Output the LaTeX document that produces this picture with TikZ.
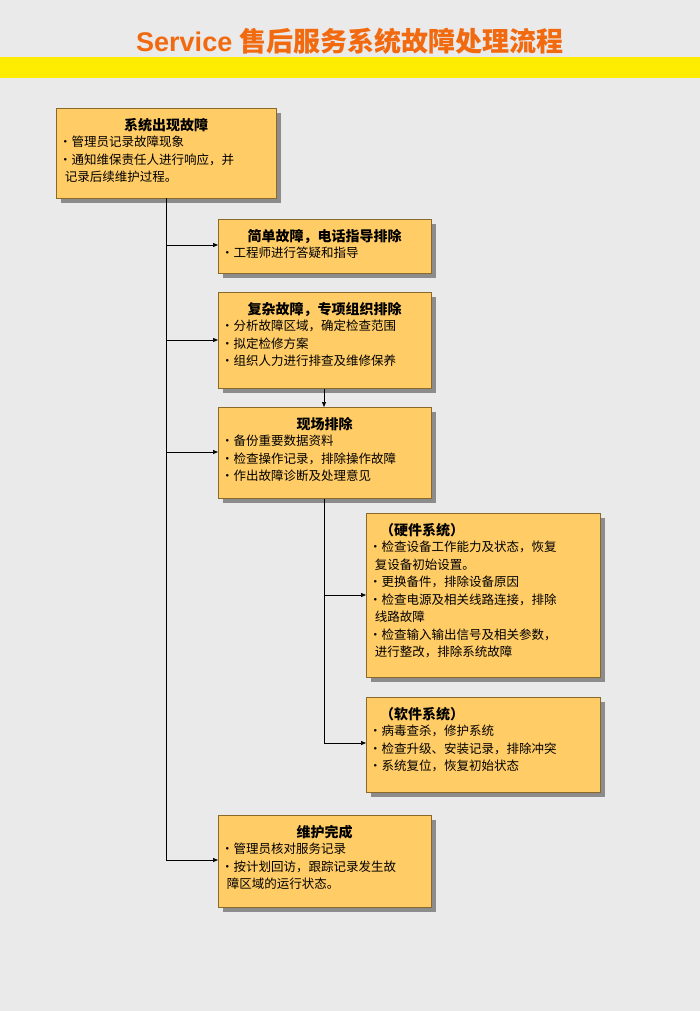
\documentclass[tikz,border=0pt]{standalone}
\usepackage{fontspec}
\setmainfont{Liberation Sans}
\newfontfamily\cjk{Noto Sans CJK SC}
\usetikzlibrary{arrows.meta}
\definecolor{bg}{HTML}{EAEAEA}
\definecolor{boxfill}{HTML}{FFCC66}
\definecolor{boxline}{HTML}{8A6A2A}
\definecolor{ttl}{HTML}{F26A10}
\tikzset{
 box/.style={draw=boxline,fill=boxfill,line width=0.8pt,anchor=north west,inner sep=0pt},
 shad/.style={fill=black!45},
 txt/.style={anchor=north west,inner sep=0pt,align=left,font=\cjk\fontsize{12.5}{17.5}\selectfont},
 hd/.style={anchor=north,inner sep=0pt,font=\cjk\bfseries\fontsize{14}{17}\selectfont},
 arr/.style={-{Triangle[length=5pt,width=4pt]},line width=0.7pt},
 ln/.style={line width=0.7pt}
}
\newcommand{\flowbox}[7]{% name x y w h title text
 \fill[shad] (#2+5,#3+5) rectangle ++(#4,#5);
 \node[box,minimum width=#4,minimum height=#5] (#1) at (#2,#3) {};
 \node[hd] (#1h) at (#2+#4/2,#3+10) {#6};
 \node[txt] (#1t) at (#2+3,#3+28) {#7};
}
\begin{document}
\begin{tikzpicture}[x=1pt,y=-1pt]
\fill[bg] (0,0) rectangle (700,1011);
\useasboundingbox (0,0) rectangle (700,1011);
\fill[yellow!95!orange] (0,57) rectangle (700,78);
\node[font=\bfseries\fontsize{27}{30}\selectfont,text=ttl] (title) at (350,41) {Service {\cjk 售后服务系统故障处理流程}};
\fill[shad] (61,113) rectangle ++(220,90);
\node[box,minimum width=220,minimum height=90] (b1) at (56,108) {};
\node[hd] (b1h) at (166,118) {系统出现故障};
\node[txt] (b1t) at (59,136) {•管理员记录故障现象\\•通知维保责任人进行响应，并\\\ \ 记录后续维护过程。};
\flowbox{b2}{218}{219}{213}{54}{简单故障，电话指导排除}{•工程师进行答疑和指导}
\flowbox{b3}{218}{292}{213}{96}{复杂故障，专项组织排除}{•分析故障区域，确定检查范围\\•拟定检修方案\\•组织人力进行排查及维修保养}
\flowbox{b4}{218}{407}{213}{91}{现场排除}{•备份重要数据资料\\•检查操作记录，排除操作故障\\•作出故障诊断及处理意见}
\fill[shad] (371,518) rectangle ++(234,164);
\node[box,minimum width=234,minimum height=164] (b5) at (366,513) {};
\node[hd] (b5h) at (422,523) {（硬件系统）};
\node[txt] (b5t) at (369,541) {•检查设备工作能力及状态，恢复\\\ \ 复设备初始设置。\\•更换备件，排除设备原因\\•检查电源及相关线路连接，排除\\\ \ 线路故障\\•检查输入输出信号及相关参数，\\\ \ 进行整改，排除系统故障};
\fill[shad] (371,702) rectangle ++(234,95);
\node[box,minimum width=234,minimum height=95] (b6) at (366,697) {};
\node[hd] (b6h) at (422,707) {（软件系统）};
\node[txt] (b6t) at (369,725) {•病毒查杀，修护系统\\•检查升级、安装记录，排除冲突\\•系统复位，恢复初始状态};
\flowbox{b7}{218}{815}{213}{92}{维护完成}{•管理员核对服务记录\\•按计划回访，跟踪记录发生故\\\ \ 障区域的运行状态。}
\coordinate (v1) at (166,860);
\draw[ln] (166,198) -- (v1);
\draw[arr] (166,245) -- (b2.west |- 0,245);
\draw[arr] (166,340) -- (b3.west |- 0,340);
\draw[arr] (166,452) -- (b4.west |- 0,452);
\draw[arr] (v1) -- (b7.west |- v1);
\draw[arr] (b3.south -| 324,0) -- (b4.north -| 324,0);
\draw[ln] (b4.south -| 324,0) -- (324,743);
\draw[arr] (324,595) -- (b5.west |- 0,595);
\draw[arr] (324,743) -- (b6.west |- 0,743);
\end{tikzpicture}
\end{document}
